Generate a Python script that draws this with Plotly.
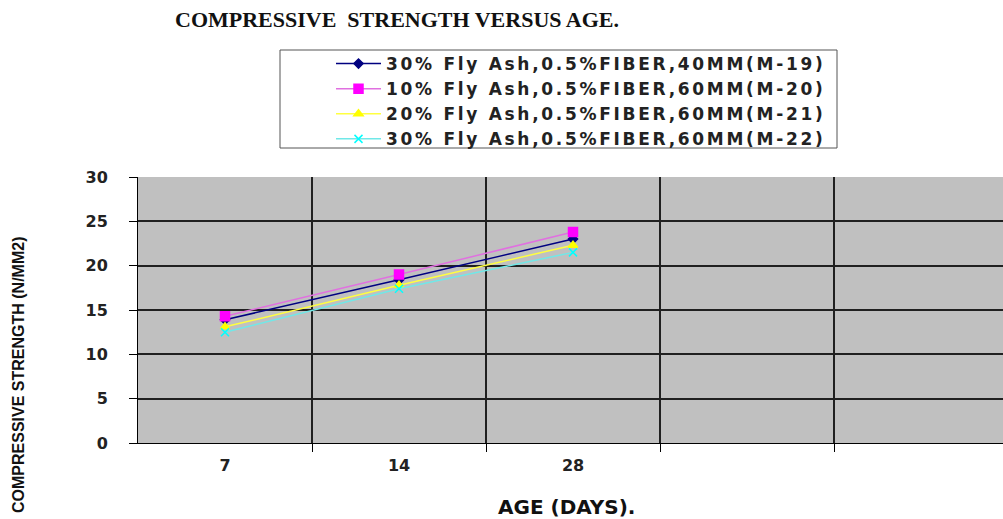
import plotly.graph_objects as go

ages = ["7", "14", "28"]
series_names = [
    "30% Fly Ash,0.5%FIBER,40MM(M-19)",
    "10% Fly Ash,0.5%FIBER,60MM(M-20)",
    "20% Fly Ash,0.5%FIBER,60MM(M-21)",
    "30% Fly Ash,0.5%FIBER,60MM(M-22)",
]
m19 = [13.9, 18.4, 23.0]
m20 = [14.3, 19.0, 23.8]
m21 = [13.1, 17.8, 22.3]
m22 = [12.5, 17.4, 21.5]
y_ticks = [0, 5, 10, 15, 20, 25, 30]

series_values = [m19, m20, m21, m22]
line_colors = ["#000080", "#E070E0", "#FFFF40", "#70E8E8"]
marker_colors = ["#000080", "#FF00FF", "#FFFF00", "#00FFFF"]
symbols = ["diamond", "square", "triangle-up", "x-thin-open"]
sizes = [7, 9, 8, 8]

x_pos = list(range(len(ages)))

fig = go.Figure()
for name, vals, lc, mc, sym, sz in zip(series_names, series_values, line_colors, marker_colors, symbols, sizes):
    fig.add_trace(go.Scatter(
        x=x_pos, y=vals, name='<span style="letter-spacing:2.7px">' + name + '</span>',
        mode="lines+markers",
        line=dict(color=lc, width=1.5),
        marker=dict(color=mc, symbol=sym, size=sz, line=dict(color=mc, width=1.5)),
    ))

W, H = 1003, 519
L, T, B = 138, 177, 443
pw = W - L
ph = B - T
cat_w = 174.0
xmax = -0.5 + pw / cat_w


def px_x(p):
    return (p - L) / pw


def px_y(p):
    return (B - p) / ph


fig.update_layout(
    width=W, height=H,
    margin=dict(l=L, r=0, t=T, b=H - B, autoexpand=False),
    paper_bgcolor="white", plot_bgcolor="#C0C0C0",
    showlegend=True,
    legend=dict(
        x=px_x(331), y=px_y(46), xanchor="left", yanchor="top",
        bgcolor="rgba(0,0,0,0)", borderwidth=0,
        font=dict(family="DejaVu Sans", size=17, color="#222222", weight="bold"),
        itemwidth=45, tracegroupgap=0,
    ),
    shapes=[
        dict(type="rect", xref="paper", yref="paper",
             x0=px_x(280), x1=px_x(837), y0=px_y(148), y1=px_y(50),
             fillcolor="white", line=dict(color="#555555", width=1), layer="above"),
    ],
    xaxis=dict(
        range=[-0.5, xmax], tickvals=x_pos, ticktext=ages,
        showgrid=False, zeroline=False,
        showline=True, linecolor="black", linewidth=1,
        ticks="", ticklabelstandoff=8,
        tickfont=dict(family="DejaVu Sans", size=16, color="#222222", weight="bold"),
        minor=dict(tickvals=[0.5, 1.5, 2.5, 3.5], showgrid=True, gridcolor="#202020",
                   gridwidth=1.5, ticks="outside", ticklen=8, tickcolor="black"),
    ),
    yaxis=dict(
        range=[0, 30], tickvals=y_ticks, showgrid=True, gridcolor="#202020", gridwidth=1.5,
        zeroline=False, showline=True, linecolor="black", linewidth=1,
        ticks="outside", ticklen=8, tickcolor="black", ticklabelstandoff=18,
        tickfont=dict(family="DejaVu Sans", size=16, color="#222222", weight="bold"),
    ),
    annotations=[
        dict(text="COMPRESSIVE  STRENGTH VERSUS AGE.", xref="paper", yref="paper",
             x=px_x(397), y=px_y(19), xanchor="center", yanchor="middle",
             showarrow=False,
             font=dict(family="Liberation Serif", size=22, color="#111111", weight="bold")),
        dict(text="COMPRESSIVE STRENGTH (N/MM2)", xref="paper", yref="paper",
             x=px_x(18), y=px_y(375), xanchor="center", yanchor="middle",
             textangle=-90, showarrow=False,
             font=dict(family="Liberation Sans", size=16, color="#111111", weight="bold")),
        dict(text="AGE (DAYS).", xref="paper", yref="paper",
             x=px_x(566), y=px_y(507), xanchor="center", yanchor="middle",
             showarrow=False,
             font=dict(family="DejaVu Sans", size=20, color="#111111", weight="bold")),
    ],
)

fig.write_html("out.html", config={"displayModeBar": False},
               post_script="document.body.style.margin='0';")
